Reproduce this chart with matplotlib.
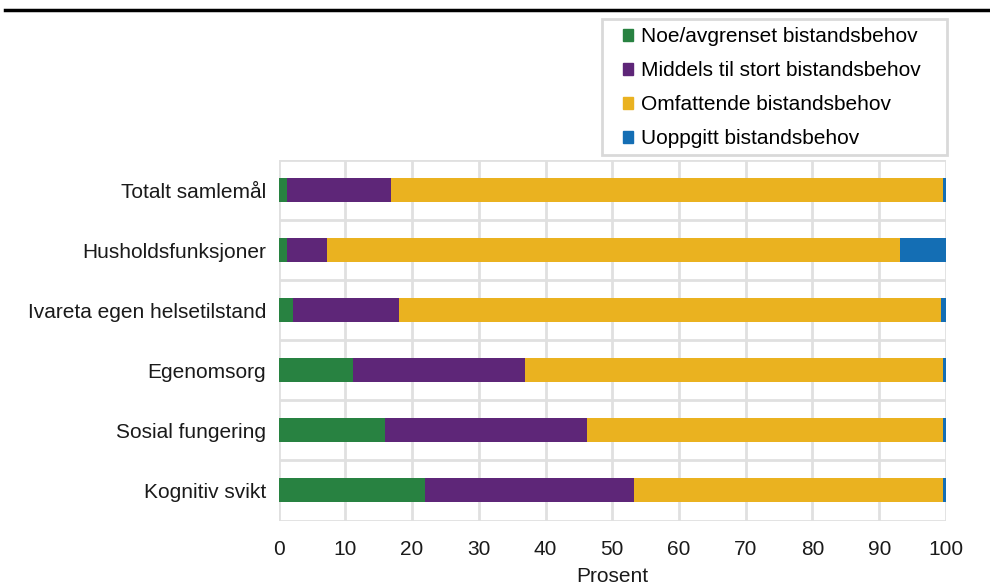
import numpy as np
import matplotlib
matplotlib.use("Agg")
from matplotlib import pyplot as plt
import matplotlib.patches as mpatches
from matplotlib.lines import Line2D

plt.rcParams['font.family'] = ['Liberation Sans', 'DejaVu Sans']

categories = ['Totalt samlemål', 'Husholdsfunksjoner', 'Ivareta egen helsetilstand',
              'Egenomsorg', 'Sosial fungering', 'Kognitiv svikt']
series_names = ['Noe/avgrenset bistandsbehov', 'Middels til stort bistandsbehov',
                'Omfattende bistandsbehov', 'Uoppgitt bistandsbehov']
noe = [1.3, 1.3, 2.2, 11.2, 16.0, 22.0]
middels = [15.5, 6.0, 15.9, 25.7, 30.2, 31.2]
omfattende = [82.8, 85.8, 81.2, 62.7, 53.3, 46.4]
uoppgitt = [0.4, 6.9, 0.7, 0.4, 0.5, 0.4]
colors = ['#288241', '#5E2678', '#EAB220', '#146EB4']

W, H = 990, 587
fig = plt.figure(figsize=(W / 100, H / 100), dpi=100)
ax = fig.add_axes([278.5 / W, 1 - 520.5 / H, (946 - 278.5) / W, (520.5 - 160) / H])

y = np.arange(len(categories))
left = np.zeros(len(categories))
for vals, name, col in zip([noe, middels, omfattende, uoppgitt], series_names, colors):
    ax.barh(y, vals, left=left, height=0.4, color=col, label=name, zorder=3)
    left += np.array(vals)

ax.set_xlim(0, 100)
ax.set_ylim(len(categories) - 0.5, -0.5)
ax.set_xticks(np.arange(0, 101, 10))
ax.set_yticks(y)
ax.set_yticklabels(categories)
ax.set_yticks(np.arange(-0.5, len(categories), 1), minor=True)
ax.tick_params(axis='both', which='both', length=0, labelsize=15, colors='#1a1a1a')
ax.tick_params(axis='y', pad=9)
ax.tick_params(axis='x', pad=14)
ax.grid(axis='x', which='major', color='#e0e0e0', linewidth=2, zorder=0)
ax.grid(axis='y', which='minor', color='#e0e0e0', linewidth=2, zorder=0)
ax.set_axisbelow(True)
for s in ax.spines.values():
    s.set_visible(False)
ax.set_xlabel('Prosent', fontsize=15, labelpad=6, color='#1a1a1a')

# legend without its own frame, box drawn separately
handles = [mpatches.Patch(color=c, label=n) for c, n in zip(colors, series_names)]
leg = fig.legend(handles=handles, loc='upper left', bbox_to_anchor=(623 / W, 1 - 27.5 / H),
                 fontsize=15, frameon=False, handlelength=0.5, handleheight=0.5,
                 handletextpad=0.35, labelspacing=0.72, borderpad=0, borderaxespad=0)
fig.add_artist(mpatches.Rectangle((602 / W, 1 - 155 / H), 345 / W, 136 / H, fill=False,
                                  edgecolor='#d9d9d9', linewidth=2, transform=fig.transFigure))

fig.add_artist(Line2D([5 / W, 1], [1 - 9.5 / H, 1 - 9.5 / H], color='black', linewidth=2.5))

fig.savefig('out.png', dpi=100)
